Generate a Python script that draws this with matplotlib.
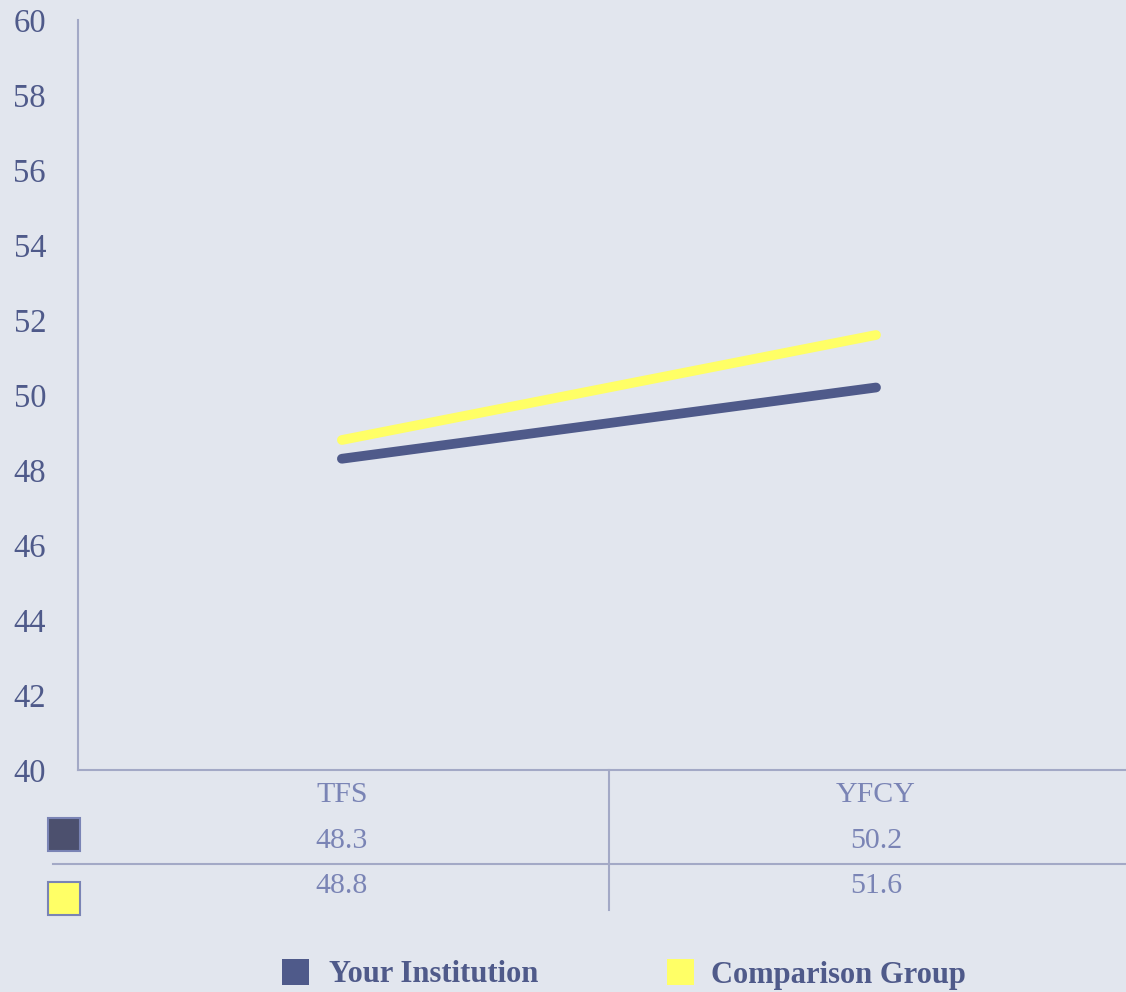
import matplotlib.pyplot as plt
import matplotlib.transforms as mtransforms
from matplotlib.patches import Rectangle
from matplotlib.lines import Line2D

# === DATA ===
categories = ["TFS", "YFCY"]
your_institution = [48.3, 50.2]
comparison_group = [48.8, 51.6]
series_names = ["Your Institution", "Comparison Group"]
y_ticks = [40, 42, 44, 46, 48, 50, 52, 54, 56, 58, 60]

# === STYLE ===
bg = "#e2e6ee"
dark = "#4f5a8a"
yellow = "#ffff66"
grid_col = "#a3a9c6"
text_col = "#7a84b5"
plt.rcParams['font.family'] = ['Liberation Serif', 'DejaVu Serif']

fig = plt.figure(figsize=(11.26, 9.92), dpi=100, facecolor=bg)
ax = fig.add_axes([78 / 1126, 1 - 770 / 992, 1 - 78 / 1126, 750 / 992])
ax.set_facecolor(bg)

x = list(range(len(categories)))
ax.plot(x, your_institution, color=dark, lw=7, solid_capstyle='round')
ax.plot(x, comparison_group, color=yellow, lw=7, solid_capstyle='round')

ax.set_xlim(-0.494, 1.468)
ax.set_ylim(40, 60)
ax.set_yticks(y_ticks)
ax.set_xticks([])
ax.tick_params(axis='y', length=0, pad=23, labelsize=23.5, labelcolor=dark)
for s in ['top', 'right']:
    ax.spines[s].set_visible(False)
for s in ['left', 'bottom']:
    ax.spines[s].set_color(grid_col)
    ax.spines[s].set_linewidth(1.5)

# === DATA TABLE BELOW ===
tr = mtransforms.blended_transform_factory(ax.transData, fig.transFigure)
for i, cat in enumerate(categories):
    fig.text(i, 1 - 795 / 992, cat, transform=tr, ha='center', va='center',
             fontsize=21.5, color=text_col)
    fig.text(i, 1 - 841 / 992, f"{your_institution[i]:.1f}", transform=tr,
             ha='center', va='center', fontsize=21.5, color=text_col)
    fig.text(i, 1 - 886 / 992, f"{comparison_group[i]:.1f}", transform=tr,
             ha='center', va='center', fontsize=21.5, color=text_col)

fig.add_artist(Line2D([53 / 1126, 1.0], [1 - 864 / 992] * 2, color=grid_col,
                      lw=1.5, transform=fig.transFigure))
fig.add_artist(Line2D([609 / 1126] * 2, [1 - 770 / 992, 1 - 910 / 992],
                      color=grid_col, lw=1.5, transform=fig.transFigure))

for col, ytop in [(dark, 818), (yellow, 882)]:
    fig.add_artist(Rectangle((48 / 1126, 1 - (ytop + 33) / 992), 32 / 1126, 33 / 992,
                             facecolor=col if col == yellow else "#4c506e",
                             edgecolor=text_col, lw=1.5, transform=fig.transFigure))

# === LEGEND ===
for name, col, x0, tx in [(series_names[0], dark, 282, 329),
                          (series_names[1], yellow, 667, 711)]:
    fig.add_artist(Rectangle((x0 / 1126, 1 - 985 / 992), 27 / 1126, 26 / 992,
                             facecolor=col, edgecolor='none', transform=fig.transFigure))
    fig.text(tx / 1126, 1 - 975 / 992, name, ha='left', va='center',
             fontsize=22, fontweight='bold', color=dark)

fig.savefig("out.png", dpi=100, facecolor=bg)
